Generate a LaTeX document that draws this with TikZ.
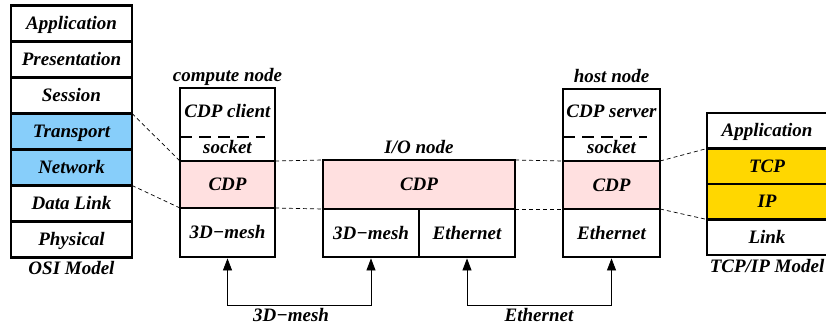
\documentclass[tikz,border=0pt]{standalone}
\usepackage{fontspec}
\setmainfont{Liberation Serif}
\usetikzlibrary{arrows.meta,positioning}
\definecolor{osiblue}{RGB}{135,206,250}
\definecolor{cdppink}{RGB}{255,224,224}
\definecolor{tcpgold}{RGB}{255,215,0}
\newcommand{\lblfont}{\fontsize{19}{22}\selectfont\bfseries\itshape}

\begin{document}
\begin{tikzpicture}[x=1pt,y=1pt,font=\lblfont,
  layer/.style={draw,line width=2.6pt,inner sep=0pt,outer sep=0pt,minimum height=36pt,text height=12.5pt,text depth=0.5pt},
  osi/.style={layer,minimum width=121pt},
  tcpip/.style={layer,minimum width=120pt,minimum height=35.5pt},
  cdp/.style={layer,fill=cdppink,minimum height=48pt},
  title/.style={inner sep=0pt,text height=13pt,text depth=4pt},
  hop/.style={line width=0.7pt,dash pattern=on 4pt off 3pt},
  sockline/.style={line width=2.6pt,dash pattern=on 12pt off 7pt},
  wire/.style={line width=0.8pt,{Triangle[length=12pt,width=9pt]}-{Triangle[length=12pt,width=9pt]},shorten <=1.4pt,shorten >=1.4pt}]

\useasboundingbox (0,0) rectangle (826,-329);

% OSI model
\node[osi] (app) at (71.5,-23.5) {Application};
\node[osi] (pres) [below=0pt of app] {Presentation};
\node[osi] (sess) [below=0pt of pres] {Session};
\node[osi,fill=osiblue] (trans) [below=0pt of sess] {Transport};
\node[osi,fill=osiblue] (net) [below=0pt of trans] {Network};
\node[osi] (dlink) [below=0pt of net] {Data Link};
\node[osi] (phys) [below=0pt of dlink] {Physical};
\node[title] (osi) [below=4pt of phys] {OSI Model};

% compute node
\node[layer,minimum width=95pt,minimum height=73pt] (cup) at (227.5,-124.5) {};
\node[title] (client) at (227.5,-113) {CDP client};
\node[title] (csock) at (227.5,-149) {socket};
\draw[sockline] ([yshift=-49pt]cup.north west) -- ++(85,0);
\node[cdp,minimum width=95pt,minimum height=47pt] (ccdp) [below=0pt of cup] {CDP};
\node[layer,minimum width=95pt,minimum height=49pt] (cmesh) [below=0pt of ccdp] {3D−mesh};
\node[title] (ctitle) [above=2pt of cup] {compute node};

% I/O node
\node[cdp,minimum width=192pt,minimum height=49pt] (iocdp) at (419,-184.5) {CDP};
\node[layer,minimum width=96pt,minimum height=48pt,anchor=north west] (iomesh) at (iocdp.south west) {3D−mesh};
\node[layer,minimum width=96pt,minimum height=48pt,anchor=north east] (ioeth) at (iocdp.south east) {Ethernet};
\node[title] (iotitle) [above=2pt of iocdp] {I/O node};

% host node
\node[layer,minimum width=97pt,minimum height=72pt] (hup) at (611.5,-125) {};
\node[title] (server) at (611.5,-113) {CDP server};
\node[title] (hsock) at (611.5,-149) {socket};
\draw[sockline] ([yshift=-48pt]hup.north west) -- ++(84,0);
\node[cdp,minimum width=97pt] (hcdp) [below=0pt of hup] {CDP};
\node[layer,minimum width=97pt,minimum height=48pt] (heth) [below=0pt of hcdp] {Ethernet};
\node[title] (htitle) [above=2pt of hup] {host node};

% TCP/IP model
\node[tcpip] (tapp) at (767,-130.75) {Application};
\node[tcpip,fill=tcpgold] (ttcp) [below=0pt of tapp] {TCP};
\node[tcpip,fill=tcpgold] (tip) [below=0pt of ttcp] {IP};
\node[tcpip] (tlink) [below=0pt of tip] {Link};
\node[title] (tcpipm) [below=4pt of tlink] {TCP/IP Model};

% dashed mappings
\draw[hop] (sess.south east) -- (cup.south west);
\draw[hop] (net.south east) -- (ccdp.south west);
\draw[hop] (ccdp.north east) -- (iocdp.north west);
\draw[hop] (ccdp.south east) -- (iocdp.south west);
\draw[hop] (iocdp.north east) -- (hcdp.north west);
\draw[hop] (iocdp.south east) -- (hcdp.south west);
\draw[hop] (hcdp.north east) -- (tapp.south west);
\draw[hop] (hcdp.south east) -- (tip.south west);

% links
\draw[wire] (cmesh.south) -- ++(0,-48) -| (iomesh.south);
\node[title] (meshlbl) at (291,-317) {3D−mesh};
\draw[wire] (ioeth.south) -- ++(0,-48) -| (heth.south);
\node[title] (ethlbl) at (539,-317) {Ethernet};
\end{tikzpicture}
\end{document}
